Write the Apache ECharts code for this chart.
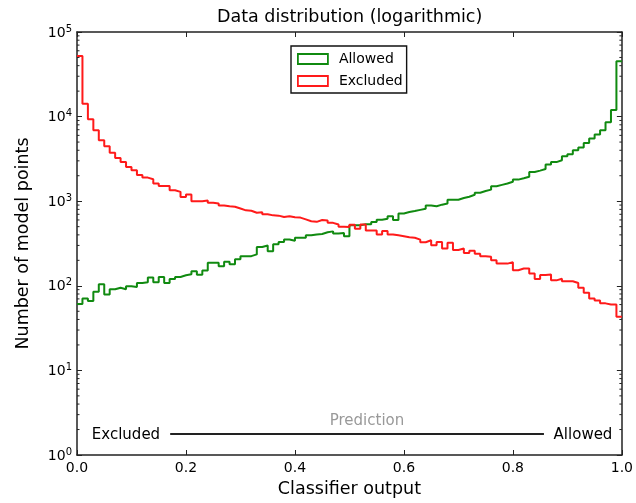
<!DOCTYPE html>
<html>
<head>
<meta charset="utf-8">
<script src="https://cdn.jsdelivr.net/npm/echarts@6/dist/echarts.min.js"></script>
<style>
html,body{margin:0;padding:0;background:#fff;}
#c{width:636px;height:503px;}
</style>
</head>
<body>
<div id="c"></div>
<script>
// Histogram bins: 100 bins over [0, 1]
const binEdges = Array.from({length: 101}, (_, i) => +(i / 100).toFixed(2));
const allowedCounts = [61,71,66,85,104,79,91,95,91,99,
  97,108,110,125,110,127,108,120,127,133,
  137,149,135,152,187,187,170,192,180,206,
  224,224,235,287,300,256,310,330,353,340,
  370,370,395,405,410,430,440,415,420,385,
  519,519,535,535,569,605,620,665,600,716,
  745,765,790,815,890,870,910,940,1040,1040,
  1090,1130,1190,1260,1320,1370,1500,1560,1620,1700,
  1800,1870,1950,2210,2300,2400,2720,2900,3050,3390,
  3600,4000,4300,4880,5500,6150,6900,8600,12000,45000];
const excludedCounts = [52000,14200,9300,6900,5250,4450,3740,3240,2900,2530,
  2320,2040,1900,1820,1620,1515,1515,1350,1290,1120,
  1200,1000,1000,1020,960,940,890,870,860,820,
  780,770,730,740,700,680,675,650,665,645,
  640,610,580,570,600,590,555,530,500,495,
  525,474,530,450,450,405,445,405,395,385,
  375,370,351,327,345,302,330,276,322,265,
  276,245,260,240,224,220,200,183,183,190,
  153,160,160,140,120,134,136,116,121,113,
  113,108,95,83,71,67,62,60,60,43];
const xTicks = [0, 0.2, 0.4, 0.6, 0.8, 1.0];
const yDecades = [1, 10, 100, 1000, 10000, 100000];
const seriesNames = ['Allowed', 'Excluded'];
// annotation arrow between "Excluded" and "Allowed" (data coords)
const predictionLine = [[0.171, 1.77], [0.857, 1.77]];

const FONT = 'DejaVu Sans';
const GREEN = '#108a10', RED = '#ff1a1a';
const FRAME = '#222';

function stepData(counts) {
  const d = counts.map((v, i) => [binEdges[i], v]);
  d.push([binEdges[100], counts[counts.length - 1]]);
  return d;
}
const minorVals = [];
for (let d = 0; d < 5; d++) for (let m = 2; m <= 9; m++) minorVals.push([0, m * Math.pow(10, d)]);

const supLabel = v => '{b|10}{s|' + Math.round(Math.log10(v)) + '}';

const chart = echarts.init(document.getElementById('c'), null, {renderer: 'canvas'});
chart.setOption({
  animation: false,
  backgroundColor: '#fff',
  textStyle: {fontFamily: FONT},
  grid: {left: 77, right: 13, top: 32, bottom: 48},
  legend: {
    orient: 'vertical', left: 291, top: 46,
    padding: [6, 4, 5, 6], itemGap: 8,
    itemWidth: 30, itemHeight: 10,
    borderColor: '#111', borderWidth: 1.4, backgroundColor: '#fff',
    textStyle: {fontFamily: FONT, fontSize: 14, color: '#000', lineHeight: 14, padding: [0, 0, 0, 6]},
    data: [
      {name: seriesNames[0], icon: 'rect', itemStyle: {color: '#fff', borderColor: GREEN, borderWidth: 1.8}},
      {name: seriesNames[1], icon: 'rect', itemStyle: {color: '#fff', borderColor: RED, borderWidth: 1.8}}
    ]
  },
  xAxis: [{
    type: 'value', min: 0, max: 1, interval: 0.2,
    name: 'Classifier output', nameLocation: 'middle', nameGap: 25,
    nameTextStyle: {fontFamily: FONT, fontSize: 17.5, color: '#000'},
    axisLine: {show: true, onZero: false, lineStyle: {color: FRAME, width: 1.5}},
    axisTick: {show: true, inside: true, length: 5, lineStyle: {color: FRAME}},
    axisLabel: {fontFamily: FONT, fontSize: 14, color: '#000', margin: 6, formatter: v => v.toFixed(1)},
    splitLine: {show: false}
  }, {
    type: 'value', min: 0, max: 1, interval: 0.2, position: 'top',
    axisLine: {show: true, onZero: false, lineStyle: {color: FRAME, width: 1.5}},
    axisTick: {show: true, inside: true, length: 5, lineStyle: {color: FRAME}},
    axisLabel: {show: false}, splitLine: {show: false}
  }],
  yAxis: [{
    type: 'log', logBase: 10, min: yDecades[0], max: yDecades[yDecades.length - 1],
    name: 'Number of model points', nameLocation: 'middle', nameGap: 45,
    nameTextStyle: {fontFamily: FONT, fontSize: 17.5, color: '#000'},
    axisLine: {show: true, onZero: false, lineStyle: {color: FRAME, width: 1.5}},
    axisTick: {show: true, inside: true, length: 5, lineStyle: {color: FRAME}},
    axisLabel: {
      margin: 5, formatter: supLabel,
      rich: {
        b: {fontFamily: FONT, fontSize: 14, color: '#000', lineHeight: 16, verticalAlign: 'bottom'},
        s: {fontFamily: FONT, fontSize: 10, color: '#000', lineHeight: 16, verticalAlign: 'top', padding: [0, 0, 8, 0]}
      }
    },
    splitLine: {show: false}
  }, {
    type: 'log', logBase: 10, min: yDecades[0], max: yDecades[yDecades.length - 1], position: 'right',
    axisLine: {show: true, onZero: false, lineStyle: {color: FRAME, width: 1.5}},
    axisTick: {show: true, inside: true, length: 5, lineStyle: {color: FRAME}},
    axisLabel: {show: false}, splitLine: {show: false}
  }],
  graphic: [
    {type: 'text', left: 350 - 133, top: 8, style: {text: 'Data distribution (logarithmic)', font: '17.5px "DejaVu Sans"', fill: '#000'}},
    {type: 'text', x: 126, y: 435, style: {text: 'Excluded', font: '15px "DejaVu Sans"', fill: '#000', textAlign: 'center', textVerticalAlign: 'middle'}},
    {type: 'text', x: 583, y: 435, style: {text: 'Allowed', font: '15px "DejaVu Sans"', fill: '#000', textAlign: 'center', textVerticalAlign: 'middle'}},
    {type: 'text', x: 367, y: 421, style: {text: 'Prediction', font: '15px "DejaVu Sans"', fill: '#999', textAlign: 'center', textVerticalAlign: 'middle'}}
  ],
  series: [
    {
      name: seriesNames[0], type: 'line', step: 'end', data: stepData(allowedCounts),
      showSymbol: false, symbol: 'none', lineStyle: {color: GREEN, width: 2}, itemStyle: {color: GREEN},
      z: 3
    },
    {
      name: seriesNames[1], type: 'line', step: 'end', data: stepData(excludedCounts),
      showSymbol: false, symbol: 'none', lineStyle: {color: RED, width: 2}, itemStyle: {color: RED},
      z: 4,
      markLine: {
        silent: true, symbol: 'none', label: {show: false},
        lineStyle: {color: '#222', width: 1.8, type: 'solid'},
        data: [[{coord: predictionLine[0]}, {coord: predictionLine[1]}]]
      }
    },
    {
      name: 'minor', type: 'custom', data: minorVals, silent: true, z: 2,
      renderItem: function (params, api) {
        const p = api.coord([0, api.value(1)]);
        const cs = params.coordSys;
        return {type: 'group', children: [
          {type: 'line', shape: {x1: cs.x, y1: p[1], x2: cs.x + 2.5, y2: p[1]}, style: {stroke: FRAME, lineWidth: 1}},
          {type: 'line', shape: {x1: cs.x + cs.width, y1: p[1], x2: cs.x + cs.width - 2.5, y2: p[1]}, style: {stroke: FRAME, lineWidth: 1}}
        ]};
      }
    }
  ]
});
</script>
</body>
</html>
